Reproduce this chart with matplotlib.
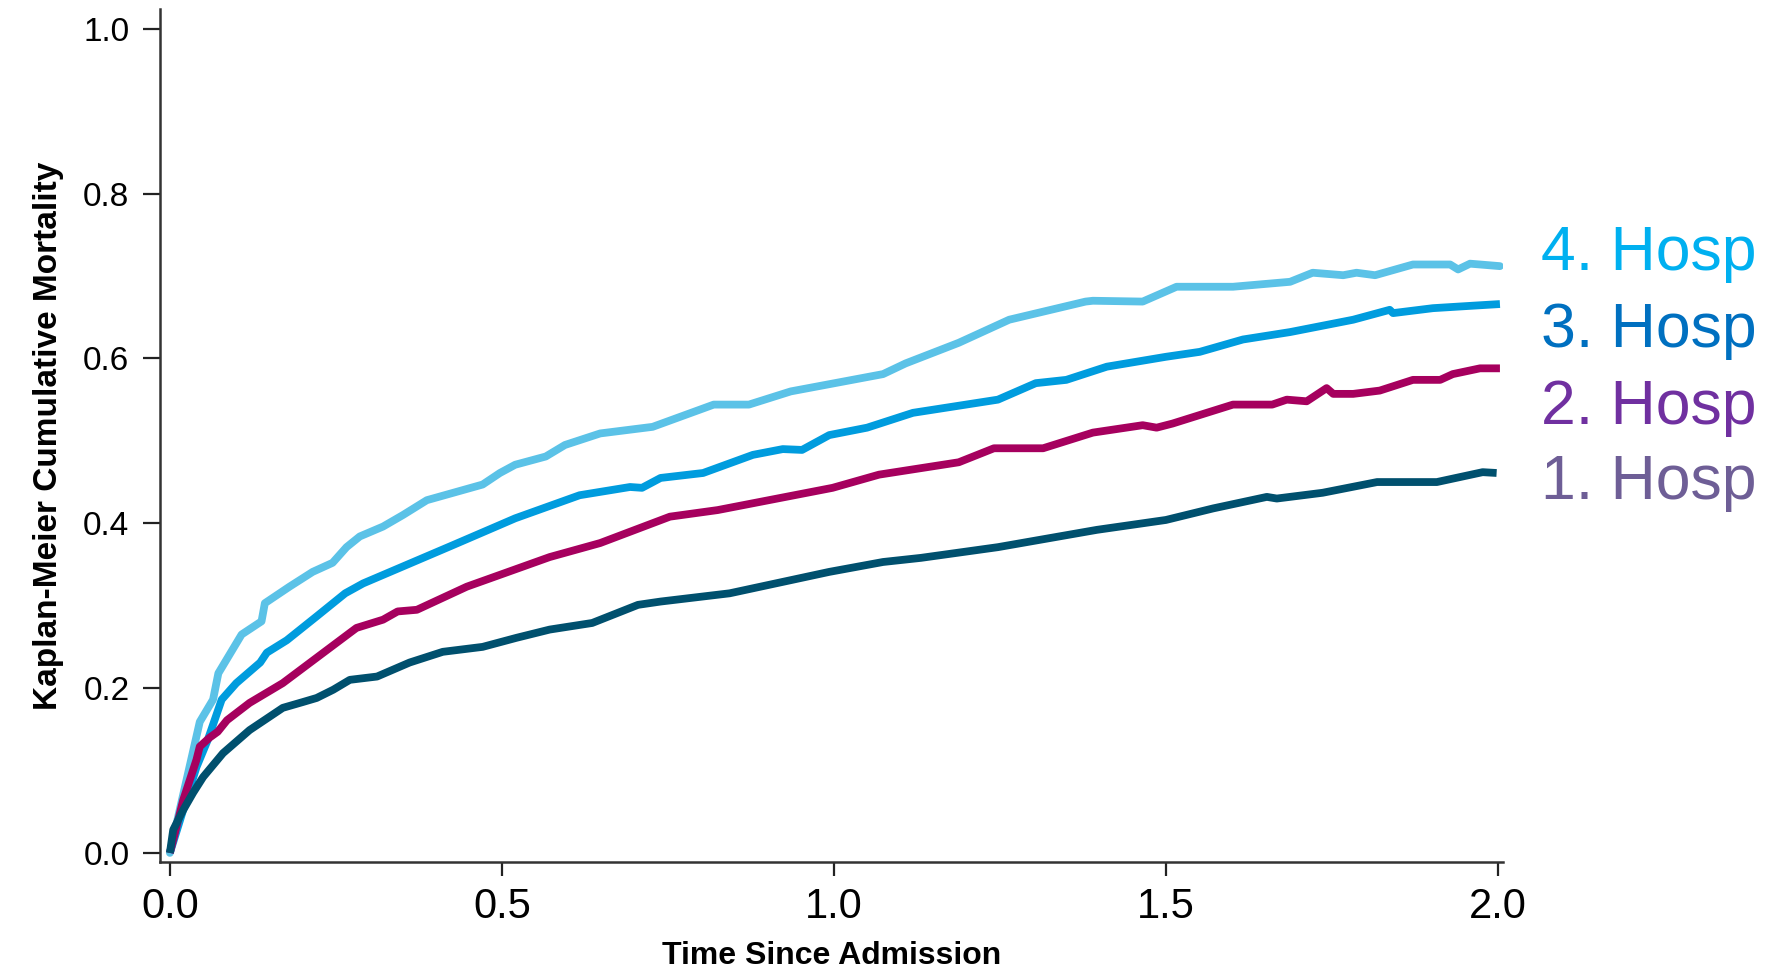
import matplotlib
matplotlib.use("Agg")
import matplotlib.pyplot as plt
from matplotlib import font_manager

names = {f.name for f in font_manager.fontManager.ttflist}
narrow = "Liberation Sans Narrow" if "Liberation Sans Narrow" in names else "Liberation Sans"

# Kaplan-Meier curves
t1 = [0, 0.005, 0.02, 0.035, 0.05, 0.08, 0.12, 0.17, 0.20, 0.221, 0.246, 0.271, 0.312, 0.361, 0.411,
      0.471, 0.522, 0.572, 0.636, 0.705, 0.739, 0.843, 0.993, 1.074, 1.131, 1.247, 1.396, 1.50, 1.571,
      1.652, 1.667, 1.736, 1.818, 1.908, 1.977, 1.998]
m1 = [0, 0.028, 0.052, 0.073, 0.092, 0.121, 0.149, 0.176, 0.183, 0.188, 0.198, 0.210, 0.214, 0.231, 0.244,
      0.250, 0.261, 0.271, 0.279, 0.301, 0.305, 0.315, 0.341, 0.353, 0.358, 0.371, 0.392, 0.404, 0.418,
      0.432, 0.430, 0.437, 0.450, 0.450, 0.462, 0.461]

t2 = [0, 0.02, 0.04, 0.045, 0.06, 0.072, 0.086, 0.12, 0.17, 0.271, 0.281, 0.321, 0.343, 0.372, 0.447,
      0.572, 0.648, 0.753, 0.825, 0.998, 1.068, 1.188, 1.241, 1.315, 1.39, 1.465, 1.486, 1.51, 1.601,
      1.66, 1.682, 1.712, 1.742, 1.752, 1.782, 1.822, 1.872, 1.913, 1.932, 1.973, 2.003]
m2 = [0, 0.064, 0.113, 0.129, 0.14, 0.147, 0.161, 0.182, 0.206, 0.267, 0.273, 0.283, 0.293, 0.295, 0.323,
      0.359, 0.376, 0.408, 0.416, 0.443, 0.459, 0.474, 0.491, 0.491, 0.510, 0.519, 0.516, 0.521, 0.544,
      0.544, 0.550, 0.548, 0.564, 0.557, 0.557, 0.561, 0.574, 0.574, 0.581, 0.588, 0.588]

t3 = [0, 0.04, 0.057, 0.078, 0.10, 0.136, 0.146, 0.176, 0.221, 0.264, 0.291, 0.422, 0.497, 0.52, 0.617,
      0.693, 0.711, 0.739, 0.803, 0.878, 0.923, 0.952, 0.993, 1.05, 1.119, 1.247, 1.304, 1.35, 1.411,
      1.50, 1.551, 1.616, 1.687, 1.782, 1.837, 1.842, 1.902, 1.962, 2.003]
m3 = [0, 0.104, 0.137, 0.186, 0.206, 0.231, 0.243, 0.258, 0.287, 0.315, 0.327, 0.372, 0.398, 0.406, 0.434,
      0.444, 0.443, 0.455, 0.461, 0.483, 0.490, 0.489, 0.507, 0.516, 0.534, 0.550, 0.570, 0.574, 0.590,
      0.602, 0.608, 0.623, 0.632, 0.647, 0.659, 0.655, 0.661, 0.664, 0.666]

t4 = [0, 0.045, 0.065, 0.073, 0.108, 0.138, 0.143, 0.18, 0.215, 0.245, 0.266, 0.286, 0.321, 0.351, 0.387,
      0.471, 0.497, 0.52, 0.566, 0.595, 0.648, 0.727, 0.819, 0.872, 0.935, 1.074, 1.108, 1.188, 1.264,
      1.379, 1.39, 1.465, 1.516, 1.601, 1.687, 1.721, 1.767, 1.787, 1.815, 1.872, 1.928, 1.94, 1.958, 2.003]
m4 = [0, 0.159, 0.186, 0.218, 0.265, 0.281, 0.303, 0.323, 0.341, 0.352, 0.371, 0.384, 0.396, 0.410, 0.428,
      0.447, 0.461, 0.471, 0.481, 0.495, 0.509, 0.517, 0.544, 0.544, 0.560, 0.581, 0.594, 0.619, 0.647,
      0.669, 0.670, 0.669, 0.687, 0.687, 0.693, 0.704, 0.701, 0.704, 0.701, 0.714, 0.714, 0.708, 0.715, 0.712]

labels = ["1. Hosp", "2. Hosp", "3. Hosp", "4. Hosp"]
line_cols = ["#00506E", "#A6005E", "#009CDE", "#5BC2E7"]
text_cols = ["#6E5E96", "#7030A0", "#0070C0", "#00B0F0"]
xticks = [0.0, 0.5, 1.0, 1.5, 2.0]
yticks = [0.0, 0.2, 0.4, 0.6, 0.8, 1.0]

fig = plt.figure(figsize=(17.79, 9.71), dpi=100)
ax = fig.add_axes([0.0899, 0.1123, 0.7551, 0.8784])

curves = [(t1, m1), (t2, m2), (t3, m3), (t4, m4)]
for i, (t, m) in enumerate(curves):
    cap = "round" if i == 3 else "butt"
    ax.plot(t, m, color=line_cols[i], lw=5.6, solid_capstyle=cap, solid_joinstyle="round", zorder=2 + (3 - i))

ax.set_xlim(-0.015, 2.008)
ax.set_ylim(-0.011, 1.024)
ax.set_xticks(xticks)
ax.set_yticks(yticks)
ax.set_xticklabels(["%.1f" % v for v in xticks], family=narrow, fontsize=30)
ax.set_yticklabels(["%.1f" % v for v in yticks], family="Liberation Sans", fontsize=24)
ax.tick_params(axis="y", length=12, width=1.6, pad=10, color="#222222")
ax.tick_params(axis="x", length=10, width=1.6, pad=8, color="#222222")
for s in ["top", "right"]:
    ax.spines[s].set_visible(False)
for s in ["left", "bottom"]:
    ax.spines[s].set_linewidth(1.8)
    ax.spines[s].set_color("#333333")

ax.set_xlabel("Time Since Admission", family=narrow, fontweight="bold", fontsize=23, labelpad=10)
ax.set_ylabel("Kaplan-Meier Cumulative Mortality", family=narrow, fontweight="bold", fontsize=24, labelpad=14)

ypos = [0.486, 0.563, 0.643, 0.722]
for i in range(4):
    fig.text(0.866, ypos[i], labels[i], color=text_cols[i], fontsize=45,
             family="Liberation Sans", va="baseline", ha="left")

fig.savefig("out.png", dpi=100)
